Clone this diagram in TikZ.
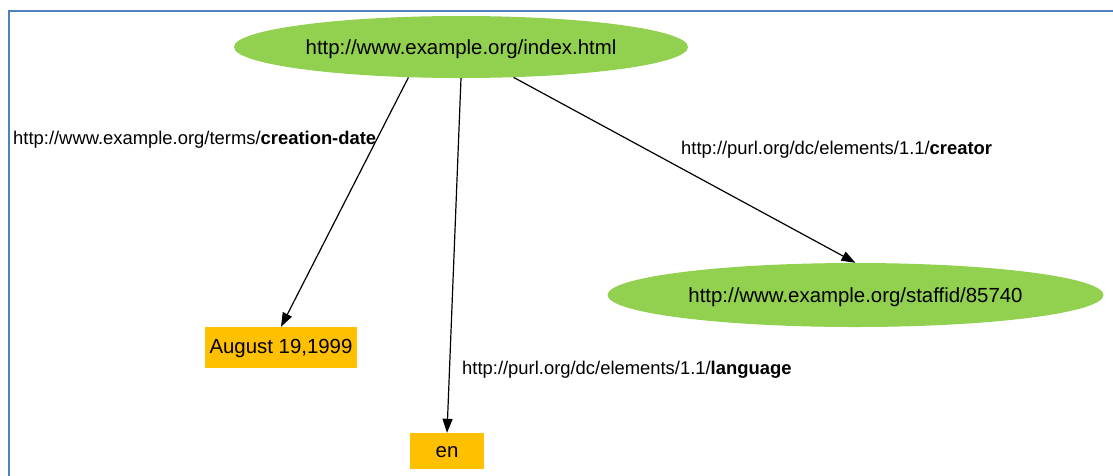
\documentclass[tikz,border=0pt]{standalone}
\usepackage{fontspec}
\setmainfont{Liberation Sans}
\usetikzlibrary{shapes.geometric,arrows.meta}
\definecolor{framec}{RGB}{79,129,189}
\definecolor{greenc}{RGB}{146,208,80}
\definecolor{orangec}{RGB}{255,192,0}
\tikzset{
  ell/.style={ellipse, fill=greenc, draw=none, inner sep=0pt, font=\fontsize{20.4}{24}\selectfont},
  litbox/.style={rectangle, fill=orangec, draw=none, inner sep=0pt, font=\fontsize{20.4}{24}\selectfont},
  edgelabel/.style={inner sep=0pt, font=\fontsize{18.4}{22}\selectfont},
  arc/.style={line width=1.2pt, -{Triangle[length=14pt,width=10pt]}}
}
\newcommand{\lowertext}[2]{\raisebox{-#1}[\height][\depth]{#2}}
\begin{document}
\begin{tikzpicture}[x=1pt,y=-1pt]
\useasboundingbox (0,0) rectangle (1113,475);
\draw[framec, line width=2pt] (8.5,476) -- (8.5,11) -- (1114,11);
\node[ell, minimum width=454pt, minimum height=62pt] (idx) at (461,47) {\lowertext{2pt}{http://www.example.org/index.html}};
\node[ell, minimum width=496pt, minimum height=64pt] (staff) at (855.5,295) {\lowertext{2pt}{http://www.example.org/staffid/85740}};
\node[litbox, minimum width=152pt, minimum height=41pt] (aug) at (281,347.5) {\lowertext{1pt}{August 19,1999}};
\node[litbox, minimum width=74pt, minimum height=36pt] (en) at (447,451) {\lowertext{1pt}{en}};
\draw[arc] (idx.210) -- (aug.north);
\draw[arc] (idx.south) -- (en.north);
\draw[arc] (idx.330) -- (staff.north);
\node[edgelabel, anchor=west] (l1) at (13,140) {http://www.example.org/terms/\textbf{creation-date}};
\node[edgelabel, anchor=west] (l2) at (681,150) {http://purl.org/dc/elements/1.1/\textbf{creator}};
\node[edgelabel, anchor=west] (l3) at (462,370) {http://purl.org/dc/elements/1.1/\textbf{language}};
\end{tikzpicture}
\end{document}
